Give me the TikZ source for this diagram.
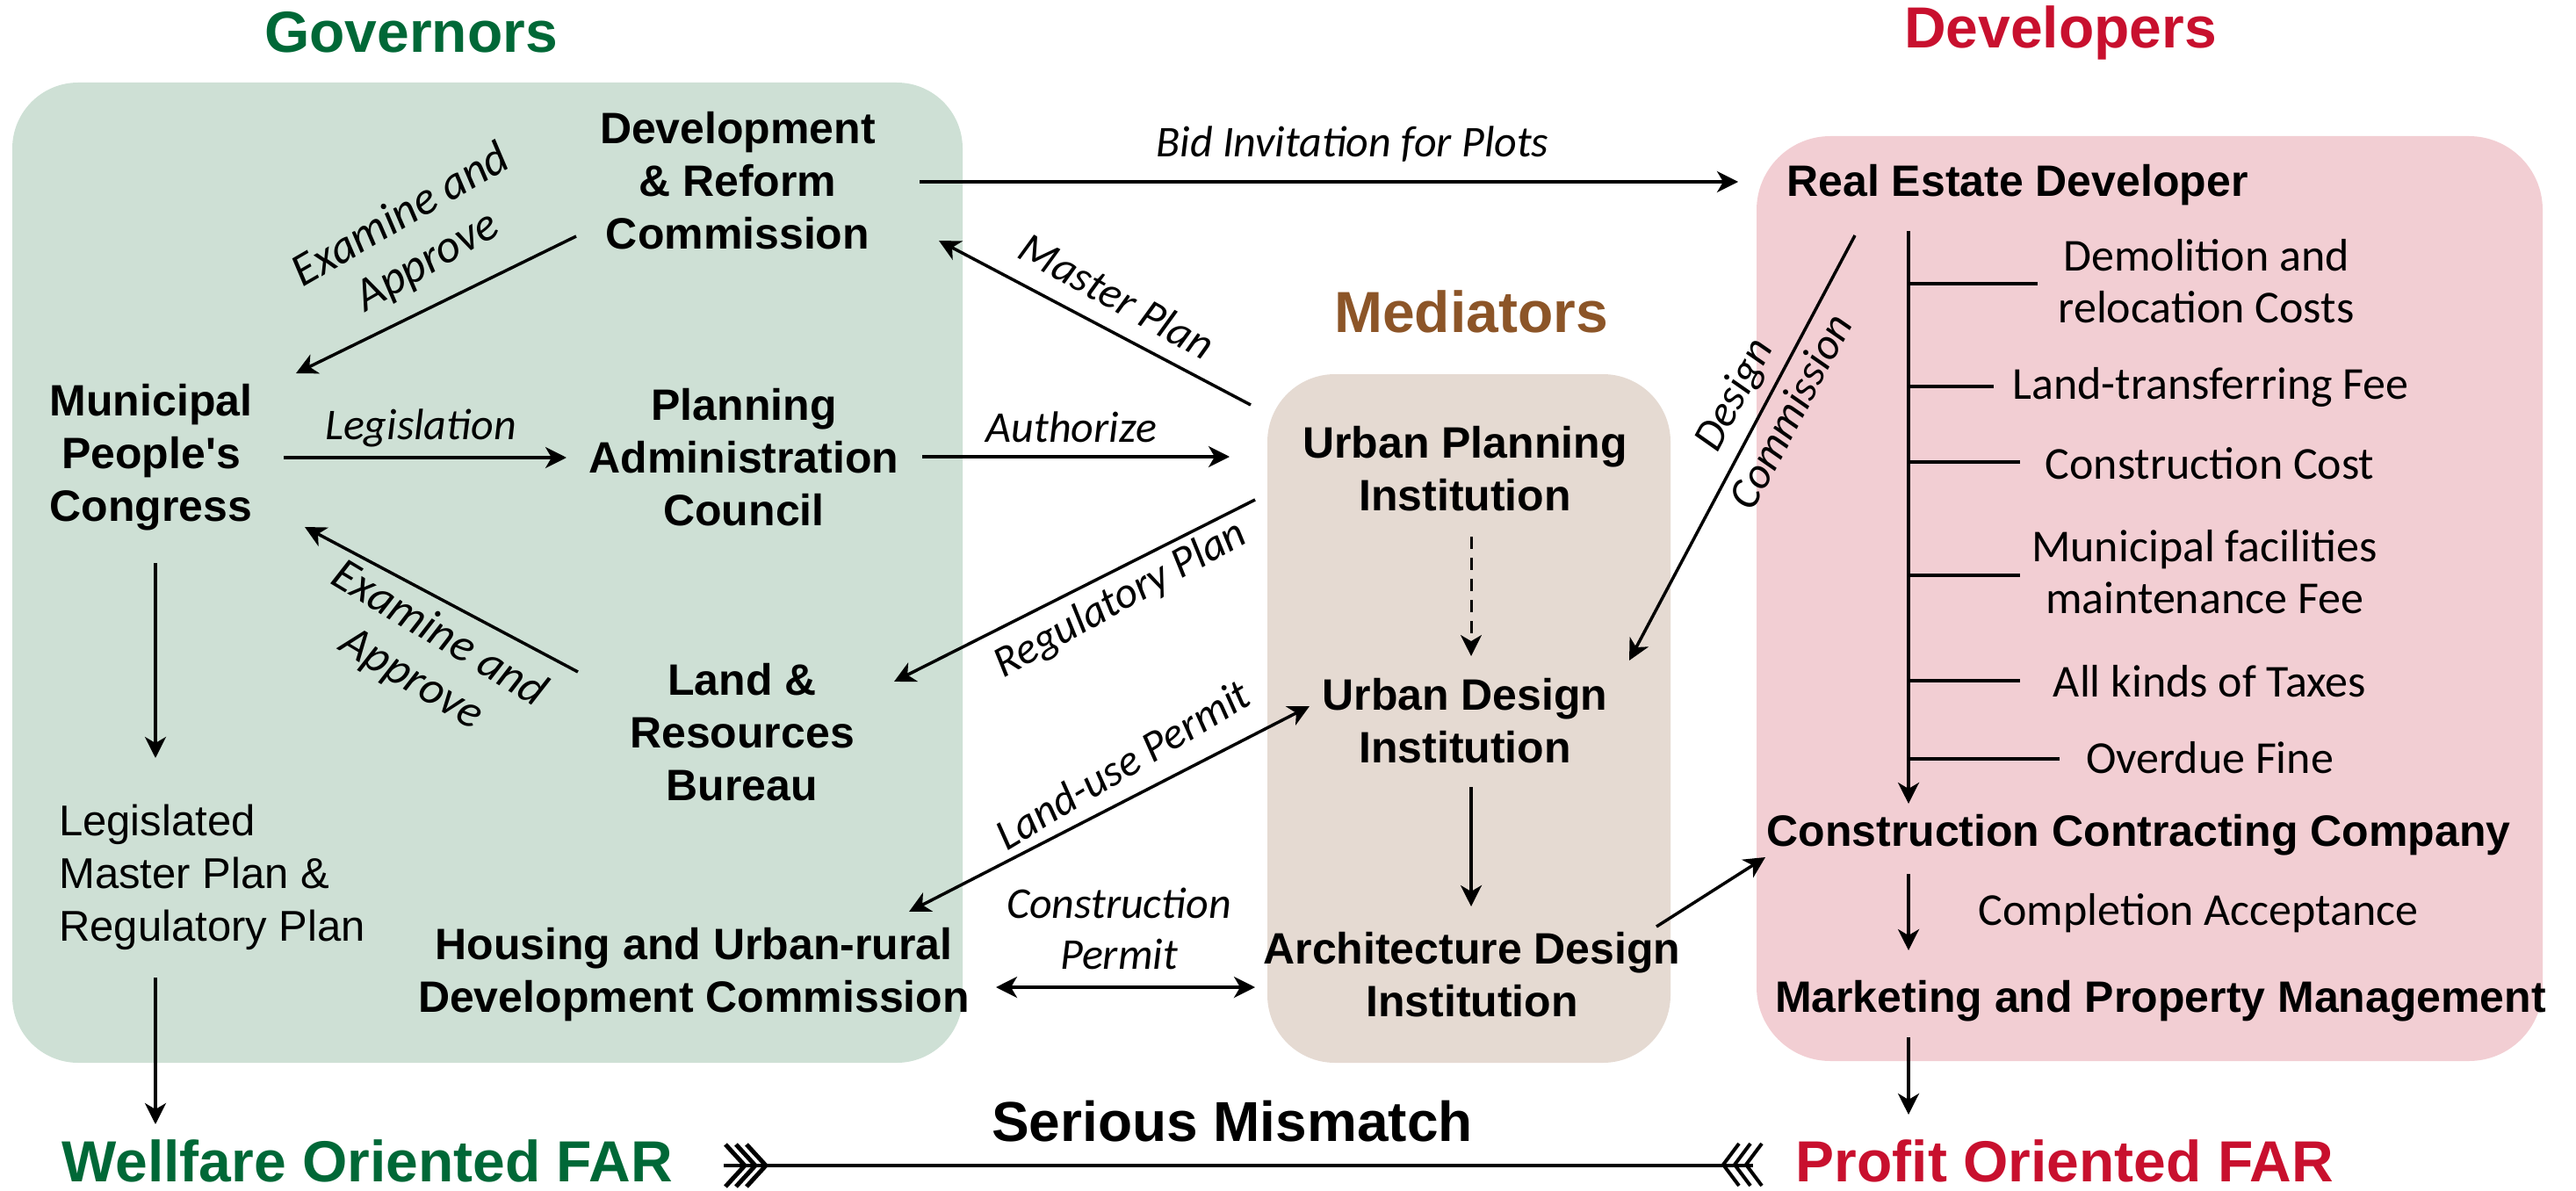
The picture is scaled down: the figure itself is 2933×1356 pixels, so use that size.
\documentclass[tikz,border=0pt]{standalone}
\usepackage{fontspec}
\setmainfont{Liberation Sans}[Ligatures=TeXOff]
\newfontfamily\lt{Carlito}
\usetikzlibrary{arrows.meta}
\definecolor{gbox}{HTML}{CEE0D5}
\definecolor{bbox}{HTML}{E5DAD2}
\definecolor{pbox}{HTML}{F2CED3}
\definecolor{gtxt}{HTML}{006837}
\definecolor{rtxt}{HTML}{C8102E}
\definecolor{btxt}{HTML}{8C5528}
\tikzset{
  bnode/.style={font=\bfseries\fontsize{50}{60}\selectfont, align=center, inner sep=0pt},
  rnode/.style={font=\fontsize{49}{60}\selectfont, align=left, inner sep=0pt},
  ttl/.style={font=\bfseries\fontsize{66}{79}\selectfont, inner sep=0pt},
  cost/.style={font=\lt\fontsize{52}{59}\selectfont, align=center, inner sep=0pt},
  lab/.style={font=\lt\itshape\fontsize{50}{58}\selectfont, align=center, inner sep=0pt},
  biglab/.style={font=\lt\itshape\fontsize{53}{60}\selectfont, align=center, inner sep=0pt},
  arr/.style={line width=3.5pt, -{Stealth[length=24pt,width=24pt,inset=7pt]}},
  darr/.style={line width=3.5pt, {Stealth[length=24pt,width=24pt,inset=7pt]}-{Stealth[length=24pt,width=24pt,inset=7pt]}},
  ln/.style={line width=3.5pt},
  dln/.style={line width=3pt, dash pattern=on 14pt off 10pt, -{Stealth[length=24pt,width=24pt,inset=7pt]}},
}
\begin{document}
\begin{tikzpicture}[x=1pt,y=-1pt]
\useasboundingbox (0,0) rectangle (2933,1356);
% boxes
\fill[gbox, rounded corners=75pt] (14,94) rectangle (1096,1210);
\fill[bbox, rounded corners=77pt] (1443,426) rectangle (1902,1210);
\fill[pbox, rounded corners=84pt] (2000,155) rectangle (2895,1208);
% titles
\node[ttl, text=gtxt] (gov) at (468,37) {Governors};
\node[ttl, text=rtxt] (devs) at (2346,37) {Developers};
\node[ttl, text=btxt] (med) at (1675,355) {Mediators};
\node[ttl, text=gtxt] (well) at (418,1322) {Wellfare Oriented FAR};
\node[ttl, text=rtxt] (prof) at (2351,1322) {Profit Oriented FAR};
\node[ttl, font=\bfseries\fontsize{64}{76}\selectfont] (mis) at (1403,1277) {Serious Mismatch};
% governor nodes
\node[bnode] (dev) at (840,206) {Development\\\& Reform\\Commission};
\node[bnode] (mpc) at (172,521) {Municipal\\People's\\Congress};
\node[bnode] (pac) at (847,521) {Planning\\Administration\\Council};
\node[bnode] (lrb) at (845,834) {Land \&\\Resources\\Bureau};
\node[rnode, anchor=west] (leg) at (67,999) {Legislated\\Master Plan \&\\Regulatory Plan};
\node[bnode] (hud) at (790,1110) {Housing and Urban-rural\\Development Commission};
% mediators
\node[bnode] (upi) at (1668,534) {Urban Planning\\Institution};
\node[bnode] (udi) at (1668,821) {Urban Design\\Institution};
\node[bnode] (adi) at (1676,1110) {Architecture Design\\Institution};
% developers
\node[bnode] (red) at (2297,211) {Real Estate Developer};
\node[bnode] (ccc) at (2435,951) {Construction Contracting Company};
\node[bnode] (mpm) at (2460,1140) {Marketing and Property Management};
\node[cost] (demo) at (2512,320) {Demolition and\\relocation Costs};
\node[cost] (land) at (2517,441) {Land-transferring Fee};
\node[cost] (cons) at (2516,528) {Construction Cost};
\node[cost] (muni) at (2510,651) {Municipal facilities\\maintenance Fee};
\node[cost] (tax) at (2516,776) {All kinds of Taxes};
\node[cost] (fine) at (2516,863) {Overdue Fine};
\node[cost] (compl) at (2503,1040) {Completion Acceptance};
% coordinates
\coordinate (bidS) at (1047,207);
\coordinate (bidE) at (1979,207);
\coordinate (ea1S) at (656,269);
\coordinate (ea1E) at (337,425);
\coordinate (legS) at (323,521);
\coordinate (legE) at (645,521);
\coordinate (ea2S) at (658,765);
\coordinate (ea2E) at (347,600);
\coordinate (autS) at (1050,520);
\coordinate (autE) at (1400,520);
\coordinate (mpS) at (1424,461);
\coordinate (mpE) at (1069,274);
\coordinate (rpS) at (1429,569);
\coordinate (rpE) at (1018,776);
\coordinate (luA) at (1035,1038);
\coordinate (luB) at (1491,804);
\coordinate (cpA) at (1134,1124);
\coordinate (cpB) at (1429,1124);
\coordinate (dsS) at (1675,611);
\coordinate (dsE) at (1675,747);
\coordinate (uaS) at (1675,896);
\coordinate (uaE) at (1675,1032);
\coordinate (dcS) at (2112,268);
\coordinate (dcE) at (1855,752);
\coordinate (acS) at (1886,1055);
\coordinate (acE) at (2010,976);
\coordinate (vS) at (2173,263);
\coordinate (vE) at (2173,915);
\coordinate (cmS) at (2173,995);
\coordinate (cmE) at (2173,1082);
\coordinate (mfS) at (2173,1181);
\coordinate (mfE) at (2173,1269);
\coordinate (mlS) at (177,641);
\coordinate (mlE) at (177,863);
\coordinate (lwS) at (177,1113);
\coordinate (lwE) at (177,1280);
\coordinate (smA) at (824,1327);
\coordinate (smB) at (1996,1327);
% connectors
\draw[arr] (bidS) -- (bidE);
\node[lab] (bidL) at (1540,164) {Bid Invitation for Plots};
\draw[arr] (ea1S) -- (ea1E);
\node[biglab, rotate=30] (ea1L) at (472,272) {Examine and\\Approve};
\draw[arr] (legS) -- (legE);
\node[lab] (legL) at (479,487) {Legislation};
\draw[arr] (ea2S) -- (ea2E);
\node[biglab, rotate=-31] (ea2L) at (484,748) {Examine and\\Approve};
\draw[arr] (autS) -- (autE);
\node[lab] (autL) at (1220,486) {Authorize};
\draw[arr] (mpS) -- (mpE);
\node[lab, rotate=-29] (mpL) at (1272,337) {Master Plan};
\draw[arr] (rpS) -- (rpE);
\node[lab, rotate=29] (rpL) at (1276,683) {Regulatory Plan};
\draw[darr] (luA) -- (luB);
\node[lab, rotate=31] (luL) at (1278,870) {Land-use Permit};
\draw[darr] (cpA) -- (cpB);
\node[lab] (cpL) at (1274,1057) {Construction\\Permit};
\draw[dln] (dsS) -- (dsE);
\draw[arr] (uaS) -- (uaE);
\draw[arr] (dcS) -- (dcE);
\node[lab, rotate=62] (dcL1) at (1976,450) {Design};
\node[lab, rotate=62] (dcL2) at (2038,468) {Commission};
\draw[arr] (acS) -- (acE);
\draw[arr] (vS) -- (vE);
\draw[ln] (2173,323) -- (2320,323);
\draw[ln] (2173,440) -- (2270,440);
\draw[ln] (2173,526) -- (2300,526);
\draw[ln] (2173,655) -- (2300,655);
\draw[ln] (2173,775) -- (2300,775);
\draw[ln] (2173,864) -- (2345,864);
\draw[arr] (cmS) -- (cmE);
\draw[arr] (mfS) -- (mfE);
\draw[arr] (mlS) -- (mlE);
\draw[arr] (lwS) -- (lwE);
% mismatch line
\draw[line width=3.5pt] (smA) -- (smB);
\foreach \i in {0,1,2} {
  \draw[line width=5pt, line join=miter] ({826+12*\i},1303) -- ({848+12*\i},1327) -- ({826+12*\i},1351);
  \draw[line width=4pt, line join=miter] ({1980+13*\i},1302) -- ({1962+13*\i},1326) -- ({1980+13*\i},1350);
}
\end{tikzpicture}
\end{document}
